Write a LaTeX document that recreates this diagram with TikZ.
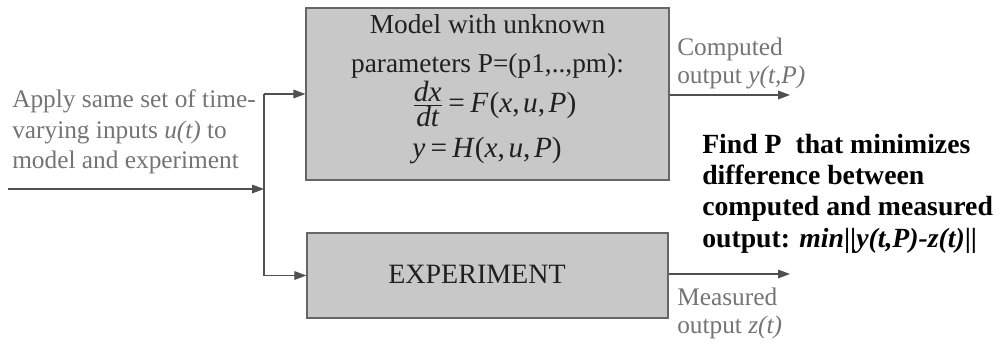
\documentclass[tikz,border=0pt]{standalone}
\usepackage{fontspec}
\setmainfont{Liberation Serif}
\usetikzlibrary{arrows.meta,calc}
\definecolor{boxfill}{HTML}{C8C8C8}
\definecolor{boxline}{HTML}{666666}
\definecolor{wire}{HTML}{505050}
\definecolor{graytext}{HTML}{747474}
\definecolor{darktext}{HTML}{202020}
\newcommand\eqs{\kern0.18em}
\newcommand\cms{\kern0.12em}
\tikzset{
  blockbox/.style={draw=boxline, fill=boxfill, line width=0.9pt, inner sep=0pt},
  wireline/.style={draw=wire, line width=0.8pt, -{Triangle[length=9pt,width=6.5pt]}},
  plainwire/.style={draw=wire, line width=0.8pt},
  lbl/.style={inner sep=0pt, anchor=base west, text=graytext, font=\fontsize{19}{22}\selectfont},
  modeltxt/.style={inner sep=0pt, anchor=base, text=darktext, font=\fontsize{20.5}{24}\selectfont},
  eqtxt/.style={inner sep=0pt, text=darktext, font=\fontsize{22}{24}\selectfont},
  boldtxt/.style={inner sep=0pt, anchor=base west, text=black, font=\fontsize{20.8}{24}\selectfont\bfseries},
}
\begin{document}
\begin{tikzpicture}[x=0.75pt, y=-0.75pt]
\useasboundingbox (0,0) rectangle (1005,344);
% boxes
\node[blockbox, minimum width=272.25pt, minimum height=129pt] (model) at (487.5,94) {};
\node[blockbox, minimum width=270.75pt, minimum height=63.75pt] (exp) at (487.5,275.5) {};
% model text
\node[modeltxt] (m1) at (487.5,33) {Model with unknown};
\node[modeltxt] (m2) at (487.5,72) {parameters P=(p1,..,pm):};
\node[eqtxt, anchor=base west] (m3) at (412,112) {$\frac{\hbox{\itshape dx}}{\hbox{\itshape dt}}$\eqs=\eqs\itshape F\kern1pt\upshape(\itshape x\upshape,\cms\itshape u\upshape,\cms\itshape P\upshape)};
\node[eqtxt, anchor=base west] (m4) at (412,157) {\itshape y\upshape\eqs=\eqs\itshape H\kern1pt\upshape(\itshape x\upshape,\cms\itshape u\upshape,\cms\itshape P\upshape)};
\node[modeltxt, font=\fontsize{21}{24}\selectfont] (e1) at (477,283) {EXPERIMENT};
% input text
\node[lbl] (a1) at (12,107) {Apply same set of time-};
\node[lbl] (a2) at (12,138) {varying inputs \textit{u(t)} to};
\node[lbl] (a3) at (12,168) {model and experiment};
% input wires
\coordinate (in) at (8,189);
\coordinate (j) at (264,189);
\draw[wireline] (in) -- (j);
\draw[plainwire] (j) |- (264,94);
\draw[plainwire] (j) -- (264,275.5);
\draw[wireline] (264,94) -- (model.west);
\draw[wireline] (264,275.5) -- (exp.west);
% outputs
\coordinate (co) at (790,95);
\coordinate (mo) at (790,274);
\draw[wireline] (model.east |- co) -- (co);
\draw[wireline] (exp.east |- mo) -- (mo);
\node[lbl] (c1) at (677,55) {Computed};
\node[lbl] (c2) at (677,83) {output \textit{y(t,P)}};
\node[lbl] (d1) at (677,305) {Measured};
\node[lbl] (d2) at (677,333) {output \textit{z(t)}};
% bold text
\node[boldtxt] (b1) at (702,153) {Find P\ \ that minimizes};
\node[boldtxt] (b2) at (702,184) {difference between};
\node[boldtxt] (b3) at (702,215) {computed and measured};
\node[boldtxt] (b4) at (702,247) {output: \textit{min}||\textit{y(t,P)-z(t)}||};
\end{tikzpicture}
\end{document}
